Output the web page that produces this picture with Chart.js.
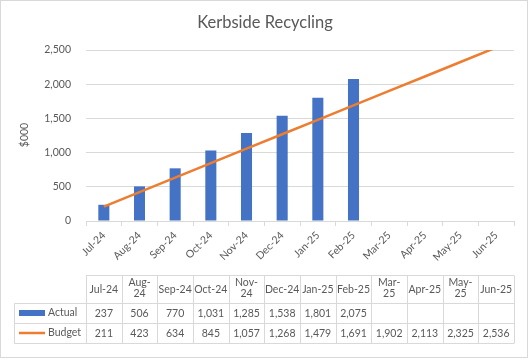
<!DOCTYPE html>
<html>
<head>
<meta charset="utf-8">
<script src="https://cdn.jsdelivr.net/npm/chart.js@4"></script>
<style>
  body { margin: 0; background: #fff; }
  canvas { display: block; }
</style>
</head>
<body>
<canvas id="chart" width="530" height="359"></canvas>
<script>
const months = ['Jul-24', 'Aug-24', 'Sep-24', 'Oct-24', 'Nov-24', 'Dec-24', 'Jan-25', 'Feb-25', 'Mar-25', 'Apr-25', 'May-25', 'Jun-25'];
// header text of the data table, wrapped the way the original shows it
const tableHeaders = ['Jul-24', 'Aug-\n24', 'Sep-24', 'Oct-24', 'Nov-\n24', 'Dec-24', 'Jan-25', 'Feb-25', 'Mar-\n25', 'Apr-25', 'May-\n25', 'Jun-25'];
const actual = [237, 506, 770, 1031, 1285, 1538, 1801, 2075, null, null, null, null];
const budget = [211, 423, 634, 845, 1057, 1268, 1479, 1691, 1902, 2113, 2325, 2536];
const yTicks = [0, 500, 1000, 1500, 2000, 2500];

const BLUE = '#4472C4';
const ORANGE = '#ED7D31';
const GRID = '#D9D9D9';
const TEXT = '#595959';
const FONT = 'Lato, "Open Sans", sans-serif';

const fmt = v => v == null ? '' : v.toLocaleString('en-US');

// title, y axis title, data table and outer border
const extras = {
  id: 'extras',
  afterDraw(chart) {
    const ctx = chart.ctx;
    const x = chart.scales.x;
    const left = x.left, right = x.right;
    const colW = (right - left) / months.length;
    ctx.save();

    ctx.strokeStyle = GRID;
    ctx.lineWidth = 1;
    ctx.strokeRect(0.5, 0.5, 527, 357);

    ctx.fillStyle = TEXT;
    ctx.font = '16.5px ' + FONT;
    ctx.textAlign = 'center';
    ctx.textBaseline = 'middle';
    ctx.fillText('Kerbside Recycling', 265, 23);

    ctx.save();
    ctx.translate(25, 135);
    ctx.rotate(-Math.PI / 2);
    ctx.font = '10.5px ' + FONT;
    ctx.fillText('$000', 0, 0);
    ctx.restore();

    // table
    const tLeft = 14.5;
    const rows = [275.5, 303.5, 323.5, 343.5];
    ctx.beginPath();
    ctx.moveTo(left, rows[0]); ctx.lineTo(right, rows[0]);
    for (let r = 1; r < rows.length; r++) {
      ctx.moveTo(tLeft, rows[r]); ctx.lineTo(right, rows[r]);
    }
    ctx.moveTo(tLeft, rows[1]); ctx.lineTo(tLeft, rows[3]);
    for (let i = 0; i <= months.length; i++) {
      const cx = Math.round(left + i * colW) + 0.5;
      ctx.moveTo(cx, rows[0]); ctx.lineTo(cx, rows[3]);
    }
    ctx.stroke();

    ctx.font = '10.5px ' + FONT;
    ctx.textAlign = 'center';
    for (let i = 0; i < months.length; i++) {
      const cx = x.getPixelForValue(i);
      const lines = tableHeaders[i].split('\n');
      if (lines.length === 1) {
        ctx.fillText(lines[0], cx, 290);
      } else {
        ctx.fillText(lines[0], cx, 283);
        ctx.fillText(lines[1], cx, 294);
      }
      ctx.fillText(fmt(actual[i]), cx, 314);
      ctx.fillText(fmt(budget[i]), cx, 334);
    }

    // legend keys
    ctx.fillStyle = BLUE;
    ctx.fillRect(19, 310, 26, 6);
    ctx.strokeStyle = ORANGE;
    ctx.lineWidth = 2.5;
    ctx.beginPath();
    ctx.moveTo(19, 333); ctx.lineTo(45, 333);
    ctx.stroke();
    ctx.fillStyle = TEXT;
    ctx.textAlign = 'left';
    ctx.fillText('Actual', 48, 313);
    ctx.fillText('Budget', 48, 333);

    ctx.restore();
  }
};

new Chart(document.getElementById('chart'), {
  data: {
    labels: months,
    datasets: [
      {
        type: 'line',
        label: 'Budget',
        data: budget,
        borderColor: ORANGE,
        backgroundColor: ORANGE,
        borderWidth: 2.5,
        pointRadius: 0,
        tension: 0,
        order: 0
      },
      {
        type: 'bar',
        label: 'Actual',
        data: actual,
        backgroundColor: BLUE,
        barPercentage: 0.31,
        categoryPercentage: 1,
        order: 1
      }
    ]
  },
  options: {
    responsive: false,
    animation: false,
    layout: { padding: { top: 50, right: 16, bottom: 93, left: 0 } },
    plugins: {
      legend: { display: false },
      tooltip: { enabled: false },
      title: { display: false }
    },
    scales: {
      x: {
        grid: {
          offset: true,
          drawOnChartArea: false,
          drawTicks: true,
          tickLength: 5,
          color: GRID
        },
        border: { color: GRID },
        ticks: {
          autoSkip: false,
          minRotation: 45,
          maxRotation: 45,
          padding: 3,
          color: TEXT,
          font: { family: FONT, size: 10.5 }
        },
        afterFit(scale) { scale.height = 45; }
      },
      y: {
        min: 0,
        max: 2500,
        afterBuildTicks(scale) { scale.ticks = yTicks.map(v => ({ value: v })); },
        grid: { color: GRID, drawTicks: false },
        border: { display: false },
        ticks: {
          padding: 15,
          color: TEXT,
          font: { family: FONT, size: 10.5 },
          callback: v => fmt(v)
        },
        afterFit(scale) { scale.width = 86; }
      }
    }
  },
  plugins: [extras]
});
</script>
</body>
</html>
